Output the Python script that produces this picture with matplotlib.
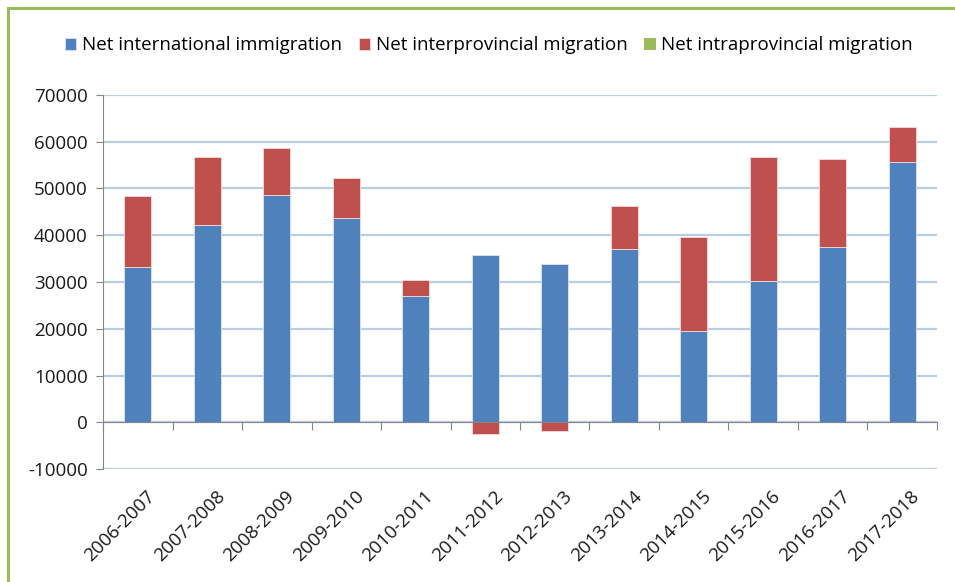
import matplotlib.pyplot as plt
import numpy as np
from matplotlib.patches import Rectangle
from matplotlib.transforms import blended_transform_factory, offset_copy

plt.rcParams["font.family"] = ["Open Sans", "DejaVu Sans"]
plt.rcParams["axes.unicode_minus"] = False

YEARS = [
    "2006-2007", "2007-2008", "2008-2009", "2009-2010", "2010-2011", "2011-2012",
    "2012-2013", "2013-2014", "2014-2015", "2015-2016", "2016-2017", "2017-2018",
]
INTERNATIONAL = [33250, 42100, 48600, 43700, 27000, 35800, 33900, 37000, 19500, 30200, 37500, 55700]
INTERPROVINCIAL = [15150, 14600, 10100, 8500, 3500, -2550, -1780, 9300, 20100, 26500, 18800, 7500]
INTRAPROVINCIAL = [0, 0, 0, 0, 0, 0, 0, 0, 0, 0, 0, 0]

BLUE = "#4f81bd"
RED = "#c0504d"
GREEN = "#9bbb59"
GRID = "#b9cde5"
AXIS = "#868686"


def main() -> None:
    fig = plt.figure(figsize=(9.55, 5.82), dpi=100)
    ax = fig.add_axes([0.108, 0.194, 0.873, 0.643])

    x = np.arange(len(YEARS))
    intl = np.array(INTERNATIONAL)
    inter = np.array(INTERPROVINCIAL)
    intra = np.array(INTRAPROVINCIAL)
    w = 0.39

    # positive parts stack upwards, negative parts downwards
    inter_bottom = np.where(inter >= 0, intl, 0)
    ax.bar(x, intl, w, color=BLUE, edgecolor="#dce6f2", linewidth=0.6, zorder=3,
           label="Net international immigration")
    ax.bar(x, inter, w, bottom=inter_bottom, color=RED, edgecolor="#f2dcdb",
           linewidth=0.6, zorder=3, label="Net interprovincial migration")
    intra_bottom = np.where(intra >= 0, intl + np.clip(inter, 0, None), np.clip(inter, None, 0))
    ax.bar(x, intra, w, bottom=intra_bottom, color=GREEN, zorder=3,
           label="Net intraprovincial migration")

    ax.set_xlim(-0.5, len(YEARS) - 0.5)
    ax.set_ylim(-10000, 70000)
    ax.set_yticks(np.arange(-10000, 70001, 10000))
    ax.yaxis.grid(True, color=GRID, linewidth=1.6, zorder=0)
    ax.tick_params(axis="y", length=5, color=AXIS, labelsize=13.5, pad=6,
                   labelcolor="#1a1a1a")

    for s in ["top", "right"]:
        ax.spines[s].set_visible(False)
    ax.spines["left"].set_color(AXIS)
    ax.spines["bottom"].set_position(("data", 0))
    ax.spines["bottom"].set_color(AXIS)
    ax.spines["bottom"].set_zorder(4)

    ax.set_xticks(np.arange(-0.5, len(YEARS), 1.0))
    ax.set_xticklabels([])
    ax.tick_params(axis="x", length=6, color=AXIS, direction="out")

    trans = blended_transform_factory(ax.transData, ax.transAxes)
    trans = offset_copy(trans, fig=fig, x=6, y=-13, units="points")
    for i, lab in enumerate(YEARS):
        ax.text(i, 0, lab, transform=trans, rotation=45, ha="right", va="top",
                rotation_mode="anchor", fontsize=13.5, color="#1a1a1a")

    ax.legend(loc="center", bbox_to_anchor=(0.512, 0.922), bbox_transform=fig.transFigure,
              ncol=3, frameon=False, fontsize=13.5, handlelength=0.6, handleheight=0.6,
              handletextpad=0.3, columnspacing=0.9)

    fig.patches.append(Rectangle((8 / 955, -0.1), 1.2, 1.1 - 8 / 582, transform=fig.transFigure,
                                 fill=False, edgecolor=GREEN, linewidth=2.2))

    fig.savefig("out.png", dpi=100)


if __name__ == "__main__":
    main()
